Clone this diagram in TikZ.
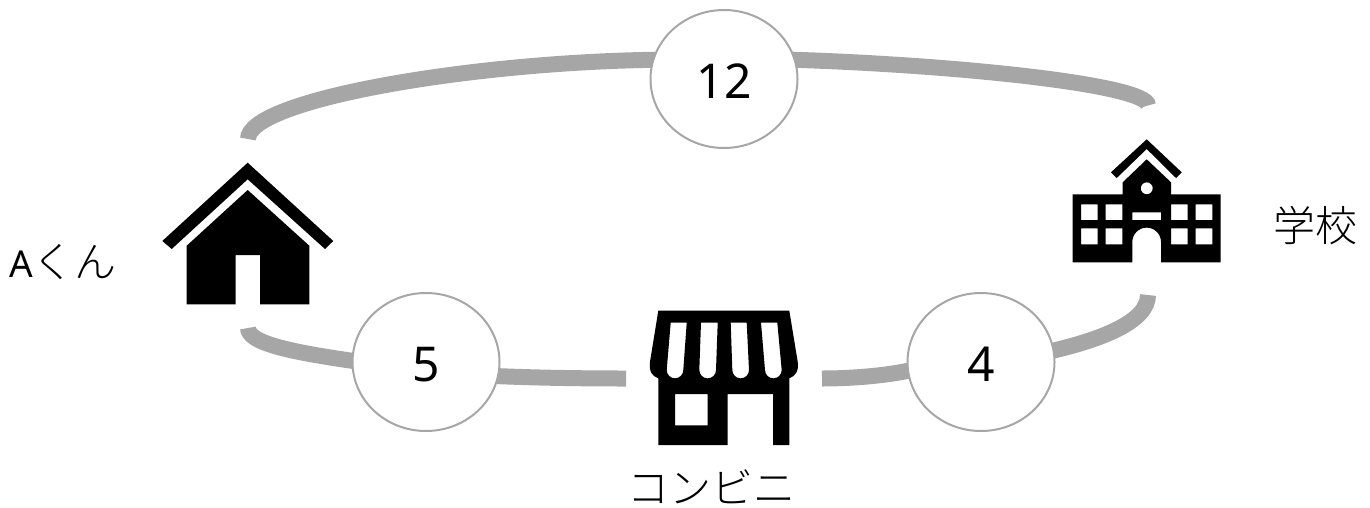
\documentclass[tikz,border=0pt]{standalone}
\usepackage{fontspec}
\setmainfont{Noto Sans}
\newfontfamily\jp{Noto Sans CJK JP Light}
\usetikzlibrary{backgrounds,shapes.geometric}
\definecolor{ringgray}{HTML}{A6A6A6}
\tikzset{
  cost/.style={draw=ringgray,line width=2pt,fill=white,ellipse,minimum width=147pt,minimum height=138pt,inner sep=0pt,text height=38pt,text depth=0pt,font=\fontsize{48}{48}\selectfont},
  ring/.style={draw=ringgray,line width=16pt,line cap=butt},
  place/.style={inner sep=0pt,font=\jp\fontsize{42}{42}\selectfont},
  icon/.style={fill=black,even odd rule,draw=none}
}
\begin{document}
\begin{tikzpicture}[x=1pt,y=-1pt]
\useasboundingbox (0,0) rectangle (1370,507);
% cost circles
\node[cost] (n12) at (724,79) {12};
\node[cost] (n5) at (426,362) {5};
\node[cost] (n4) at (981,362) {4};
% connector end points
\coordinate (aTop) at (248,139);
\coordinate (aBot) at (248,328);
\coordinate (sTop) at (1148,105.5);
\coordinate (sBot) at (1148,295);
\coordinate (cL) at (626,378.5);
\coordinate (cR) at (822,378.5);
\begin{scope}[on background layer]
\draw[ring,shorten >=-6pt] (aTop) .. controls (248,100) and (470,62) .. (n12.165);
\draw[ring,shorten >=-6pt] (sTop) .. controls (1148,85) and (960,65) .. (n12.15);
\draw[ring,shorten >=-6pt] (aBot) .. controls (248,343) and (290,352) .. (n5.179);
\draw[ring,shorten <=-6pt] (n5.-11) .. controls (540,378) and (590,378.5) .. (cL);
\draw[ring,shorten >=-6pt] (cR) .. controls (850,378.5) and (885,376) .. (n4.-173);
\draw[ring,shorten >=-6pt] (sBot) .. controls (1148,322) and (1100,340) .. (n4.9);
\end{scope}
% house
\fill[icon] (247.7,162.7) -- (333.3,241) -- (325,249) -- (247.7,179.3) -- (171.7,249) -- (162.3,241) -- cycle;
\fill[icon] (247.7,190) -- (309.3,245.7) -- (309.3,304.3) -- (260,304.3) -- (260,255) -- (235.7,255) -- (235.7,304.3) -- (186.7,304.3) -- (186.7,245.7) -- cycle;
% shop
\fill[icon] (658.3,310.7) -- (789.3,310.7) -- (797.7,361.7) .. controls (799,372) and (795,376) .. (789.3,378.3) -- (789.3,445) -- (773,445) -- (773,394) -- (727.7,394) -- (727.7,445) -- (658.3,445) -- (658.3,378.3) .. controls (652,376) and (649,372) .. (650,361.7) -- cycle
 (675,394) rectangle (707.7,425.3)
 (670.7,322.7) -- (686.7,322.7) -- (683.3,370) arc[start angle=0,end angle=180,x radius=8.3,y radius=8.3] -- cycle
 (701,322.7) -- (717.7,322.7) -- (716,370) arc[start angle=0,end angle=180,x radius=8.35,y radius=8.35] -- cycle
 (730.7,322.7) -- (746.7,322.7) -- (749,370) arc[start angle=0,end angle=180,x radius=8.35,y radius=8.35] -- cycle
 (761,322.7) -- (777.3,322.7) -- (781.7,370) arc[start angle=0,end angle=180,x radius=8.35,y radius=8.35] -- cycle;
% school
\fill[icon] (1146.7,139.3) -- (1181.7,172.3) -- (1176,178) -- (1146.7,149) -- (1116.7,178) -- (1111,172.3) -- cycle;
\fill[icon] (1146.7,159.3) -- (1171,182.3) -- (1171,194.3) -- (1220.7,194.3) -- (1220.7,262.3) -- (1161,262.3) -- (1161,242) arc[start angle=0,end angle=180,x radius=14.35,y radius=-14.35] -- (1132.3,262.3) -- (1072.7,262.3) -- (1072.7,194.3) -- (1122.7,194.3) -- (1122.7,182.3) -- cycle
 (1146.7,188.3) circle[radius=6]
 (1081,204.3) rectangle (1097.7,220) (1105.7,204.3) rectangle (1122.3,220)
 (1171,204.3) rectangle (1187.7,220) (1195.7,204.3) rectangle (1212.3,220)
 (1081,228.3) rectangle (1097.7,244.3) (1105.7,228.3) rectangle (1122.3,244.3)
 (1171,228.3) rectangle (1187.7,244.3) (1195.7,228.3) rectangle (1212.3,244.3)
 (1132.3,212.3) rectangle (1161,220);
% labels
\node[place,anchor=west] (lA) at (9,262) {{\fontsize{37}{37}\selectfont\rmfamily A}くん};
\node[place] (lS) at (1315,226) {学校};
\node[place] (lC) at (711,487) {コンビニ};
\end{tikzpicture}
\end{document}
